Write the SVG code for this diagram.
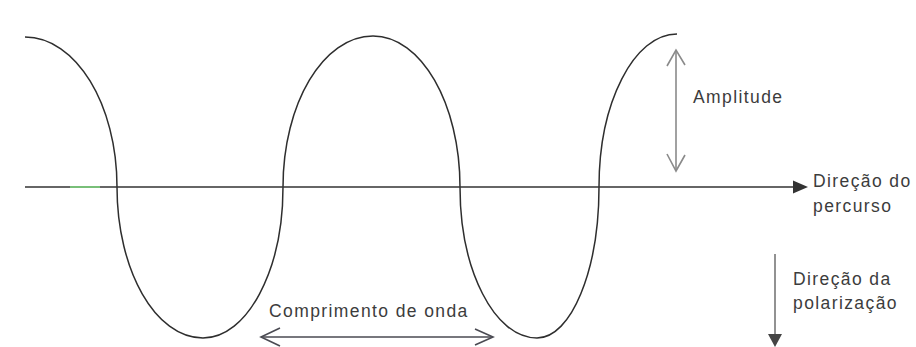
<svg xmlns="http://www.w3.org/2000/svg" width="916" height="347" viewBox="0 0 916 347">
<style>
.t{font-family:"Liberation Sans",Arial,sans-serif;font-size:17.5px;fill:#3c3c3c;letter-spacing:1.4px}
.wave{fill:none;stroke:#2e2e2e;stroke-width:1.5}
.axis{stroke:#333;stroke-width:1.4;fill:none}
.gray{stroke:#8a8a8a;stroke-width:1.6;fill:none}
.dark{stroke:#4a4a52;stroke-width:1.6;fill:none}
</style>
<rect width="916" height="347" fill="#fff"/>
<g id="wave">
<path class="wave" d="M25,37 C75.8,37 117,104.2 117,187 C117,270.4 155.5,338 203,338 C247.2,338 283,270.4 283,187 C283,103.6 323.3,36 373,36 C421.1,36 460,103.6 460,187 C460,270.4 494.5,338 537,338 C571.2,338 599,270.4 599,187 C599,102.5 633.9,34 677,34"/>
</g>
<g id="connectors">
<line class="axis" x1="25" y1="187" x2="795" y2="187"/>
<line x1="70" y1="187" x2="100" y2="187" stroke="#7fd67f" stroke-width="1.6"/>
<polygon points="793,180.5 808,187 793,193.5" fill="#333"/>
<line class="gray" x1="676" y1="51" x2="676" y2="170"/>
<polyline class="gray" points="667,66 676,50 685,65"/>
<polyline class="gray" points="667,154 676,171 685,155"/>
<line class="dark" x1="261" y1="337" x2="492" y2="337"/>
<polyline class="dark" points="280,328 261,337 280,346"/>
<polyline class="dark" points="475,329 493,337 475,345"/>
<line x1="775" y1="254" x2="775" y2="336" stroke="#777" stroke-width="1.6"/>
<polygon points="768,334 782,334 775,347" fill="#444"/>
</g>
<g id="amplitude"><text class="t" x="693" y="103">Amplitude</text></g>
<g id="percurso"><text class="t" x="813" y="187">Direção do</text><text class="t" x="813" y="212">percurso</text></g>
<g id="comprimento"><text class="t" x="269" y="317">Comprimento de onda</text></g>
<g id="polarizacao"><text class="t" x="793" y="285">Direção da</text><text class="t" x="793" y="309">polarização</text></g>
</svg>
